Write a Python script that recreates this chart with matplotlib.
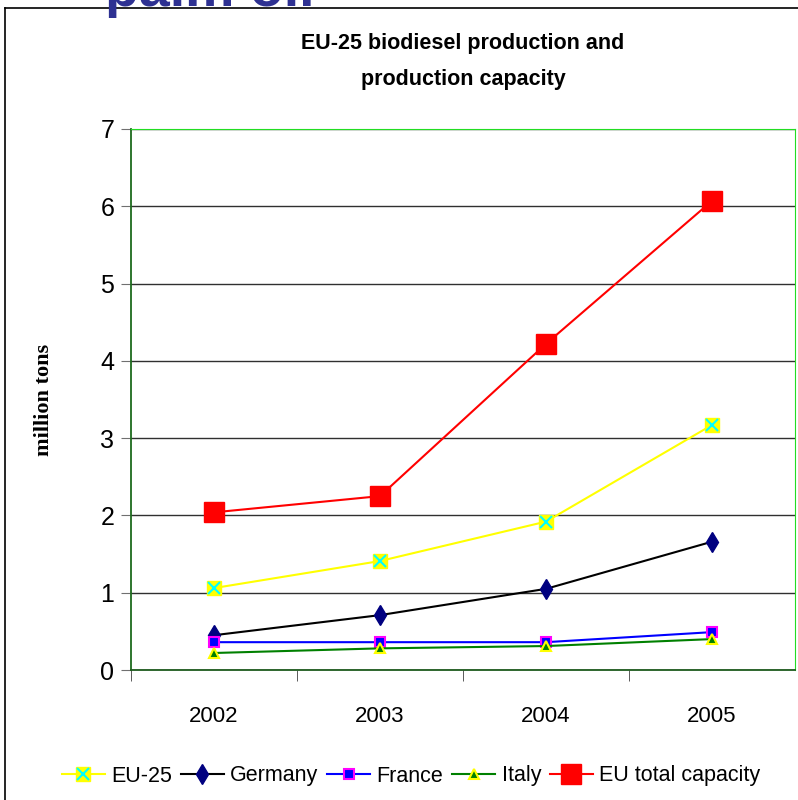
import matplotlib
matplotlib.use("Agg")
import matplotlib.pyplot as plt
from matplotlib.legend_handler import HandlerTuple
from matplotlib.lines import Line2D

years = ["2002", "2003", "2004", "2005"]
eu25 = [1.06, 1.41, 1.92, 3.17]
germany = [0.45, 0.71, 1.05, 1.66]
france = [0.36, 0.36, 0.36, 0.49]
italy = [0.22, 0.28, 0.31, 0.40]
eu_capacity = [2.04, 2.25, 4.22, 6.07]

plt.rcParams["font.family"] = ["Liberation Sans", "DejaVu Sans"]

fig = plt.figure(figsize=(7.98, 8.0), dpi=100)
ax = fig.add_axes([131 / 798, 130 / 800, 664 / 798, 541 / 800])

x = list(range(len(years)))

# outer slide frame and the clipped heading above it
fig.add_artist(Line2D([5 / 798, 5 / 798], [0, 1 - 8 / 800], color="black", lw=1.2))
fig.add_artist(Line2D([5 / 798, 1], [1 - 8 / 800, 1 - 8 / 800], color="black", lw=1.2))
fig.text(105 / 798, 1 - 6 / 800, "palm oil", fontsize=40, fontweight="bold",
         color="#2E3192", va="baseline", ha="left")

# lines
l_eu_sq, = ax.plot(x, eu25, color="#FFFF00", lw=1.5, marker="s", ms=10,
                   mfc="#FFFF00", mec="#FFFF00", zorder=4)
l_eu_x, = ax.plot(x, eu25, ls="none", marker="x", ms=8, mec="#00FFFF", mew=1.5, zorder=5)
l_de, = ax.plot(x, germany, color="black", lw=1.5, marker="d", ms=10,
                mfc="#000080", mec="#000080", zorder=4)
l_fr, = ax.plot(x, france, color="#0000FF", lw=1.5, marker="s", ms=7,
                mfc="#0000FF", mec="#FF00FF", mew=1.5, zorder=4)
l_it, = ax.plot(x, italy, color="#008000", lw=1.5, marker="^", ms=7,
                mfc="#008000", mec="#FFFF00", mew=1.5, zorder=4)
l_cap, = ax.plot(x, eu_capacity, color="#FF0000", lw=1.5, marker="s", ms=14,
                 mfc="#FF0000", mec="#FF0000", zorder=4)

ax.set_xlim(-0.5, 3.5)
ax.set_ylim(0, 7)
ax.set_yticks(range(0, 8))
ax.set_xticks(x)
ax.set_xticklabels(years)
ax.set_xticks([-0.5, 0.5, 1.5, 2.5], minor=True)
ax.tick_params(axis="x", which="major", length=0, labelsize=16, pad=26)
ax.tick_params(axis="x", which="minor", length=8, color="#404040", direction="out")
ax.tick_params(axis="y", labelsize=18, length=7, color="#707070", pad=5)
ax.grid(axis="y", color="#303030", lw=1.0)
ax.set_axisbelow(True)

ax.spines["left"].set_color("#1E6B1E")
ax.spines["bottom"].set_color("#1E5B1E")
ax.spines["top"].set_color("#22DD22")
ax.spines["right"].set_color("#22DD22")
ax.spines["bottom"].set_linewidth(1.3)
ax.spines["left"].set_linewidth(1.3)

fig.text(44 / 798, 1 - 400 / 800, "million tons", family=["Liberation Serif", "DejaVu Serif"],
         fontweight="bold", fontsize=16, rotation=90, ha="center", va="center")

fig.text(463 / 798, 1 - 44 / 800, "EU-25 biodiesel production and",
         ha="center", va="center", fontsize=15.5, fontweight="bold")
fig.text(463 / 798, 1 - 80 / 800, "production capacity",
         ha="center", va="center", fontsize=15.5, fontweight="bold")

fig.legend([(l_eu_sq, l_eu_x), l_de, l_fr, l_it, l_cap],
           ["EU-25", "Germany", "France", "Italy", "EU total capacity"],
           handler_map={tuple: HandlerTuple(ndivide=1, pad=0)},
           loc="center", bbox_to_anchor=(411 / 798, 1 - 776 / 800), ncol=5,
           frameon=False, fontsize=15.5, handlelength=2.0, handletextpad=0.3,
           columnspacing=0.4)

fig.savefig("out.png", dpi=100)
